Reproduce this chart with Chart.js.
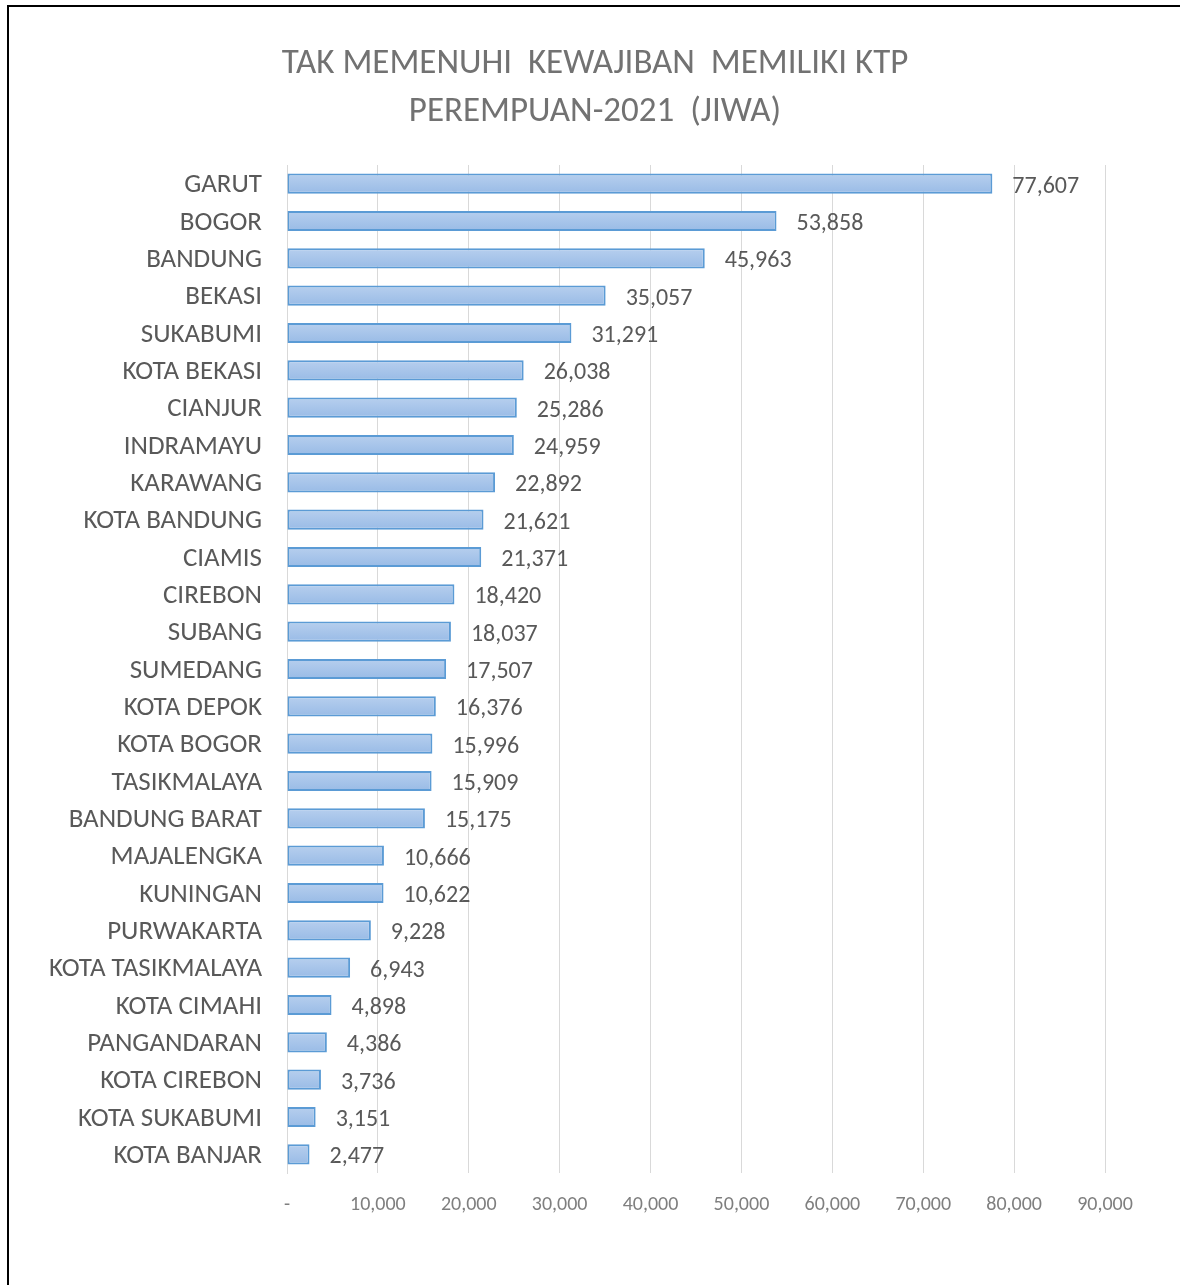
<!DOCTYPE html>
<html>
<head>
<meta charset="utf-8">
<script src="https://cdn.jsdelivr.net/npm/chart.js@4/dist/chart.umd.min.js"></script>
<style>
  html, body { margin: 0; padding: 0; background: #fff; }
  #wrap { position: relative; width: 1180px; height: 1285px; }
  #frame { position: absolute; left: 7px; top: 5px; right: 0; bottom: 0;
           border-left: 2px solid #000; border-top: 2px solid #000; pointer-events: none; }
  canvas { position: absolute; left: 0; top: 0; }
</style>
</head>
<body>
<div id="wrap">
  <canvas id="chart" width="1180" height="1285"></canvas>
  <div id="frame"></div>
</div>
<script>
// Districts/cities, largest first
const regions = [
  'GARUT', 'BOGOR', 'BANDUNG', 'BEKASI', 'SUKABUMI', 'KOTA BEKASI', 'CIANJUR',
  'INDRAMAYU', 'KARAWANG', 'KOTA BANDUNG', 'CIAMIS', 'CIREBON', 'SUBANG',
  'SUMEDANG', 'KOTA DEPOK', 'KOTA BOGOR', 'TASIKMALAYA', 'BANDUNG BARAT',
  'MAJALENGKA', 'KUNINGAN', 'PURWAKARTA', 'KOTA TASIKMALAYA', 'KOTA CIMAHI',
  'PANGANDARAN', 'KOTA CIREBON', 'KOTA SUKABUMI', 'KOTA BANJAR'
];
// Women without an ID card (KTP), 2021, persons
const women = [
  77607, 53858, 45963, 35057, 31291, 26038, 25286,
  24959, 22892, 21621, 21371, 18420, 18037,
  17507, 16376, 15996, 15909, 15175,
  10666, 10622, 9228, 6943, 4898,
  4386, 3736, 3151, 2477
];
const titleLines = ['TAK MEMENUHI  KEWAJIBAN  MEMILIKI KTP', 'PEREMPUAN-2021  (JIWA)'];
const axisMax = 90000;
const axisStep = 10000;

const FONT = "Carlito, Lato, 'Open Sans', sans-serif";
const BAR_PCT = 0.54;

function fmt(v) { return v.toLocaleString('en-US'); }

// Vertical light-to-darker blue fill inside each bar
function barFill(c) {
  const chart = c.chart;
  const ys = chart.scales.y;
  if (!chart.chartArea || !ys || c.dataIndex === undefined) return '#a9c5e9';
  const yc = ys.getPixelForValue(c.dataIndex);
  const h = ys.height / regions.length * BAR_PCT;
  const g = chart.ctx.createLinearGradient(0, yc - h / 2, 0, yc + h / 2);
  g.addColorStop(0, '#b7cfee');
  g.addColorStop(0.5, '#a8c5ea');
  g.addColorStop(1, '#99bbe6');
  return g;
}

// Two-line heading, centred on the page width
const heading = {
  id: 'heading',
  afterDraw(chart) {
    const ctx = chart.ctx;
    ctx.save();
    ctx.font = '35px ' + FONT;
    ctx.fillStyle = '#727272';
    ctx.textAlign = 'center';
    ctx.textBaseline = 'middle';
    titleLines.forEach((line, i) => {
      ctx.fillText(line, 595, 64 + i * 48);
    });
    ctx.restore();
  }
};

// Value printed just past the end of each bar
const valueLabels = {
  id: 'valueLabels',
  afterDatasetsDraw(chart) {
    const ctx = chart.ctx;
    const meta = chart.getDatasetMeta(0);
    ctx.save();
    ctx.font = '24px ' + FONT;
    ctx.fillStyle = '#595959';
    ctx.textAlign = 'left';
    ctx.textBaseline = 'middle';
    meta.data.forEach((el, i) => {
      ctx.fillText(fmt(women[i]), el.x + 20, el.y + 3);
    });
    ctx.restore();
  }
};

new Chart(document.getElementById('chart'), {
  type: 'bar',
  data: {
    labels: regions,
    datasets: [{
      data: women,
      backgroundColor: barFill,
      borderColor: '#5b9bd5',
      borderWidth: 2,
      borderSkipped: false,
      barPercentage: BAR_PCT,
      categoryPercentage: 1
    }]
  },
  options: {
    indexAxis: 'y',
    responsive: false,
    animation: false,
    layout: { padding: { left: 0, right: 75, top: 165, bottom: 0 } },
    plugins: {
      legend: { display: false },
      tooltip: { enabled: false },
      title: { display: false }
    },
    scales: {
      x: {
        min: 0,
        max: axisMax,
        ticks: {
          stepSize: axisStep,
          color: '#7f7f7f',
          font: { family: FONT, size: 20 },
          padding: 20,
          callback: (v) => v === 0 ? '-' : fmt(v)
        },
        grid: { color: '#d9d9d9', lineWidth: 1, drawTicks: false },
        border: { display: false },
        afterFit: (s) => { s.height = 112; }
      },
      y: {
        ticks: {
          color: '#595959',
          font: { family: FONT, size: 27 },
          padding: 25,
          labelOffset: 2,
          autoSkip: false
        },
        grid: { display: false, drawTicks: false },
        border: { display: true, color: '#d9d9d9', width: 1 },
        afterFit: (s) => { s.width = 287; }
      }
    }
  },
  plugins: [valueLabels, heading]
});
</script>
</body>
</html>
